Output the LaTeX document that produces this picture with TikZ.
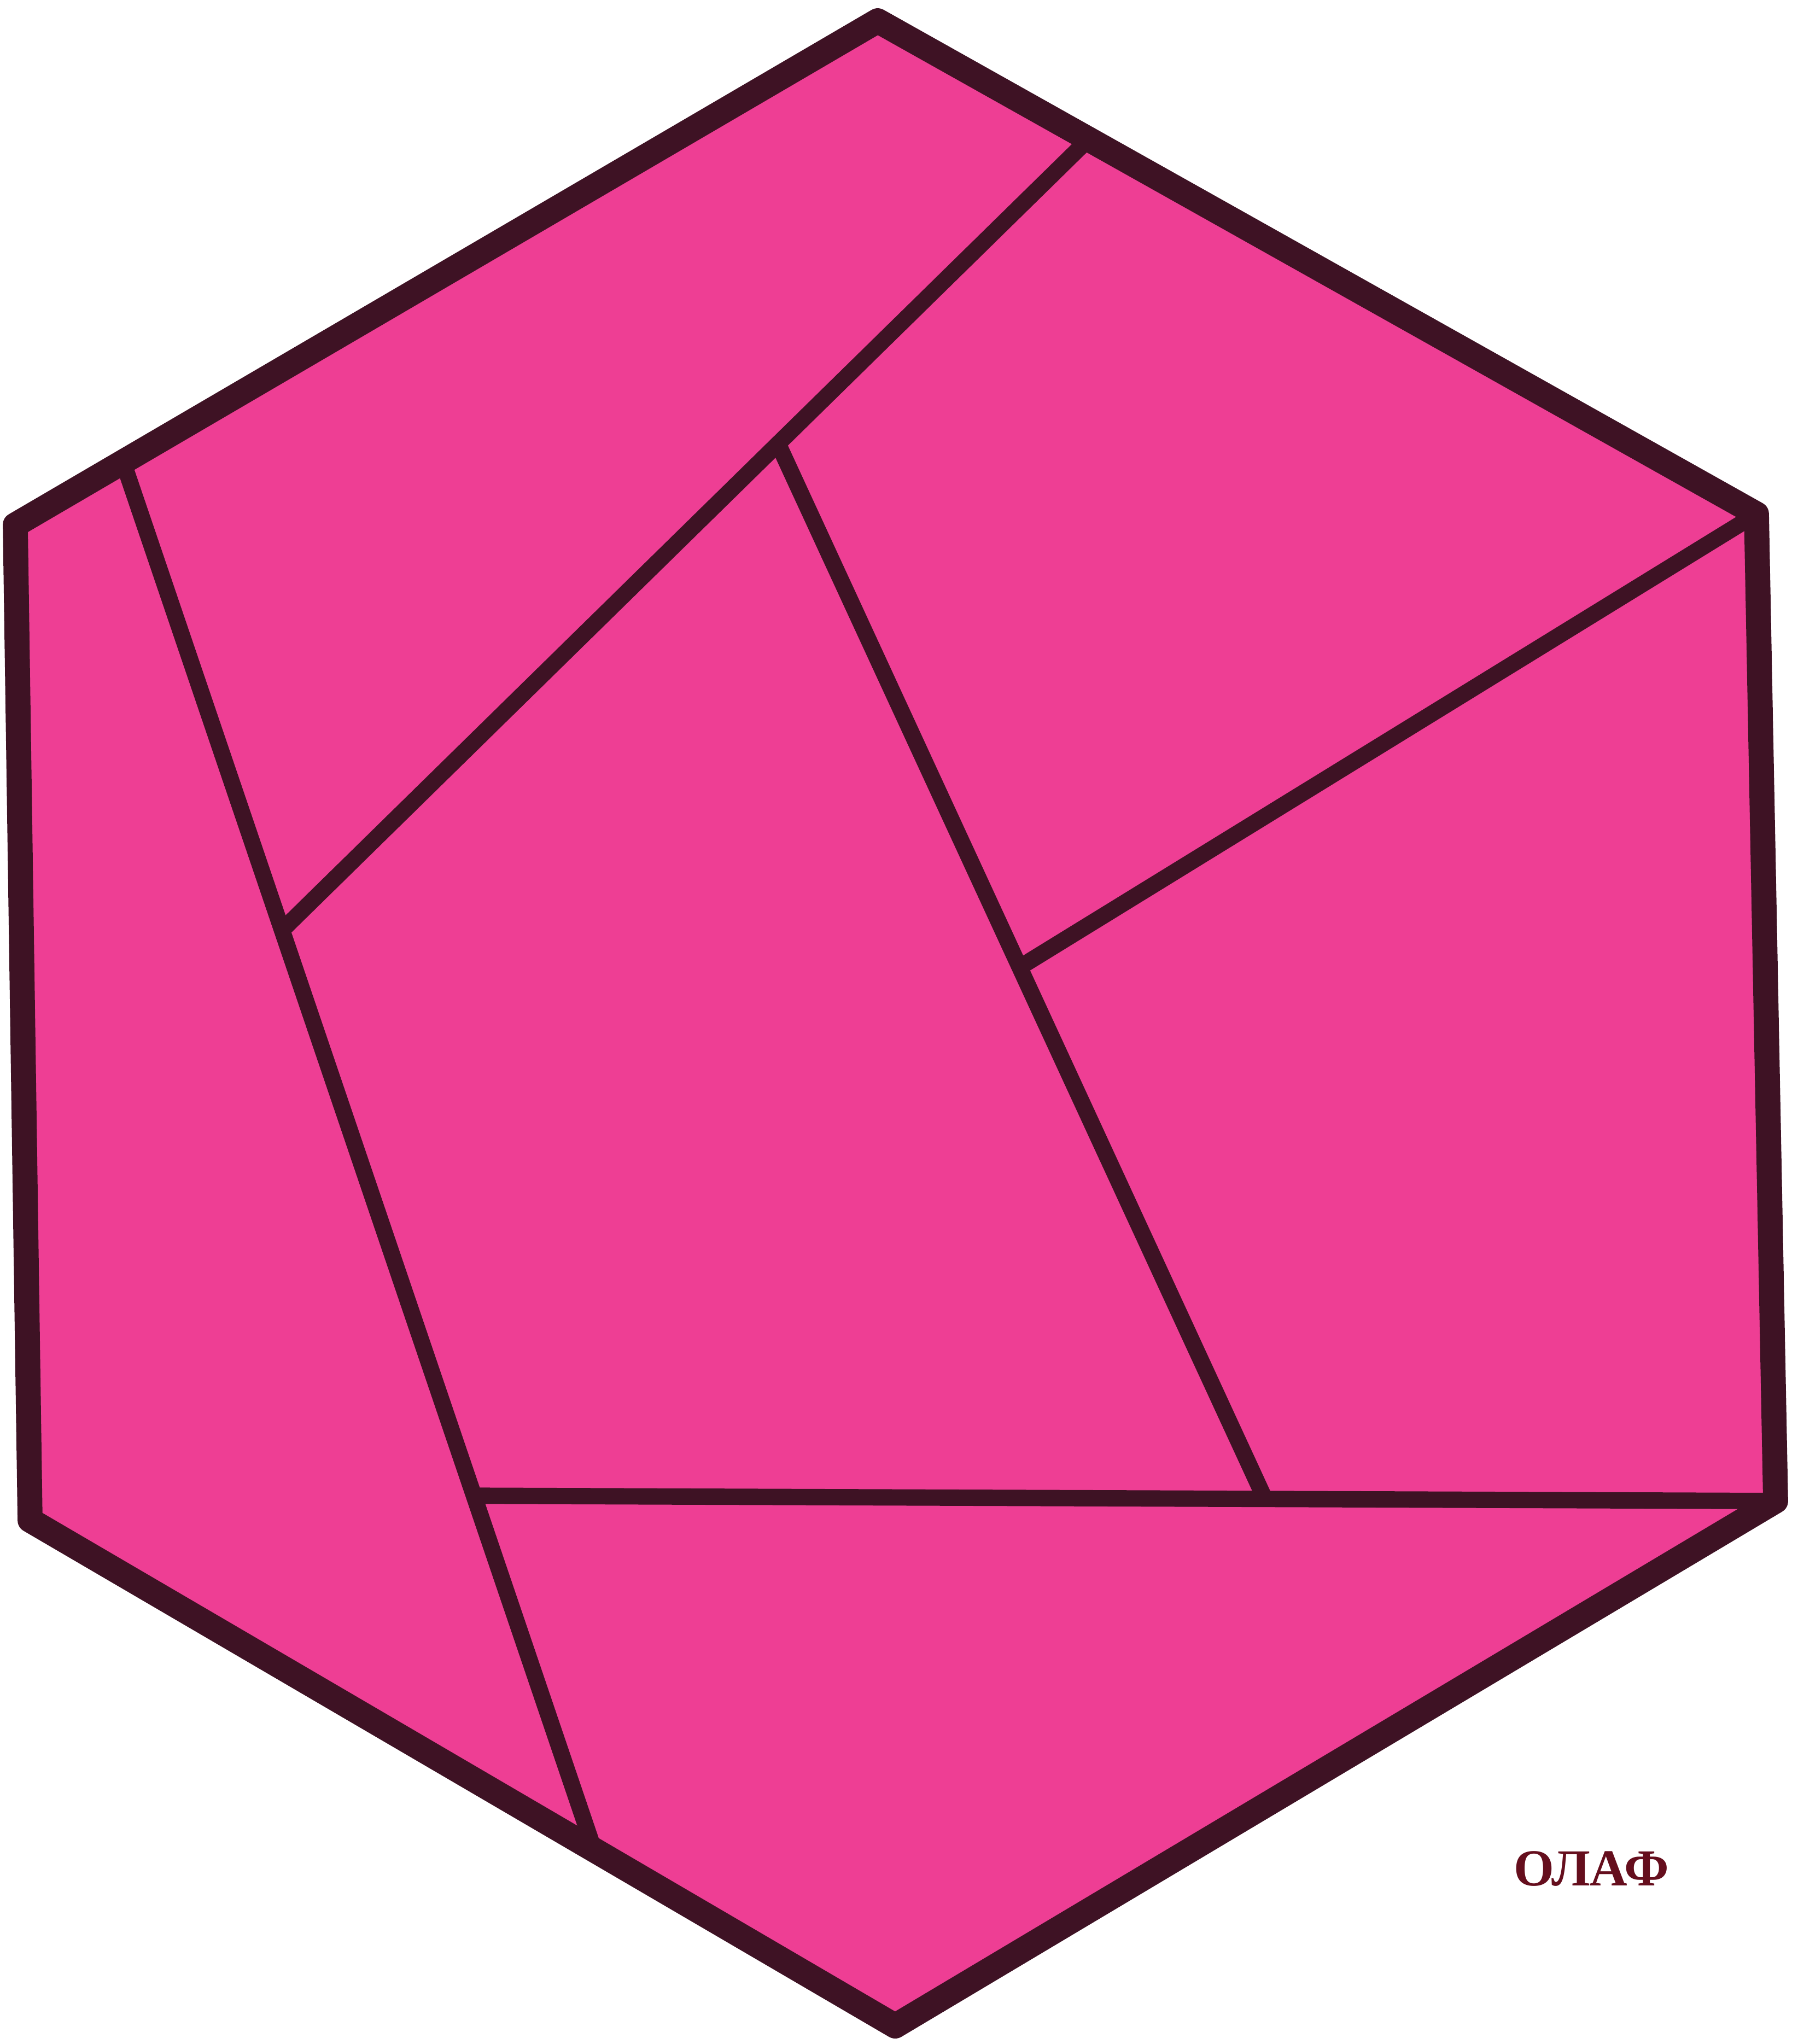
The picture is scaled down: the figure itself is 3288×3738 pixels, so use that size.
\documentclass[tikz,border=0pt]{standalone}
\usepackage{fontspec}
\newfontfamily\signfont{Liberation Serif}
\usetikzlibrary{calc}

\definecolor{hexpink}{RGB}{238,62,148}
\definecolor{inkline}{RGB}{62,18,36}

\begin{document}
\begin{tikzpicture}[x=0.01cm, y=-0.01cm,
  piece/.style={fill=hexpink},
  rim/.style={draw=inkline, line width=13pt, line join=round},
  cut/.style={draw=inkline, line width=8.5pt},
  sign/.style={font=\signfont\bfseries\fontsize{27}{30}\selectfont, text=inkline!80!red},
]
\useasboundingbox (0,0) rectangle (3288,3738);

% hexagon corners
\coordinate (T)  at (1605,38);
\coordinate (UR) at (3212,940);
\coordinate (LR) at (3247,2745);
\coordinate (B)  at (1637,3705);
\coordinate (LL) at (55,2780);
\coordinate (UL) at (28,960);

% helper points for the cuts
\coordinate (a1) at ($(UL)!0.125!(T)$);
\coordinate (a2) at ($(LL)!0.652!(B)$);
\coordinate (b1) at ($(T)!0.24!(UR)$);
\coordinate (b0) at (536,1681);
\coordinate (b2) at (intersection of a1--a2 and b1--b0);
\coordinate (c1) at ($(b1)!0.385!(b2)$);
\coordinate (c0) at (2308,2730);
\coordinate (d0) at (800,2735);
\coordinate (d1) at (intersection of a1--a2 and d0--LR);
\coordinate (c2) at (intersection of c1--c0 and d1--LR);
\coordinate (e0) at (1872,1764);
\coordinate (e2) at (intersection of UR--e0 and c1--c2);

\fill[piece] (T) -- (UR) -- (LR) -- (B) -- (LL) -- (UL) -- cycle;

\draw[cut] (a1) -- (a2);
\draw[cut] (b1) -- (b2);
\draw[cut] (c1) -- (c2);
\draw[cut] (UR) -- (e2);
\draw[cut] (d1) -- (LR);

\draw[rim] (T) -- (UR) -- (LR) -- (B) -- (LL) -- (UL) -- cycle;

\node[sign] (olaf) at (2910,3417) {ОЛАФ};
\end{tikzpicture}
\end{document}
